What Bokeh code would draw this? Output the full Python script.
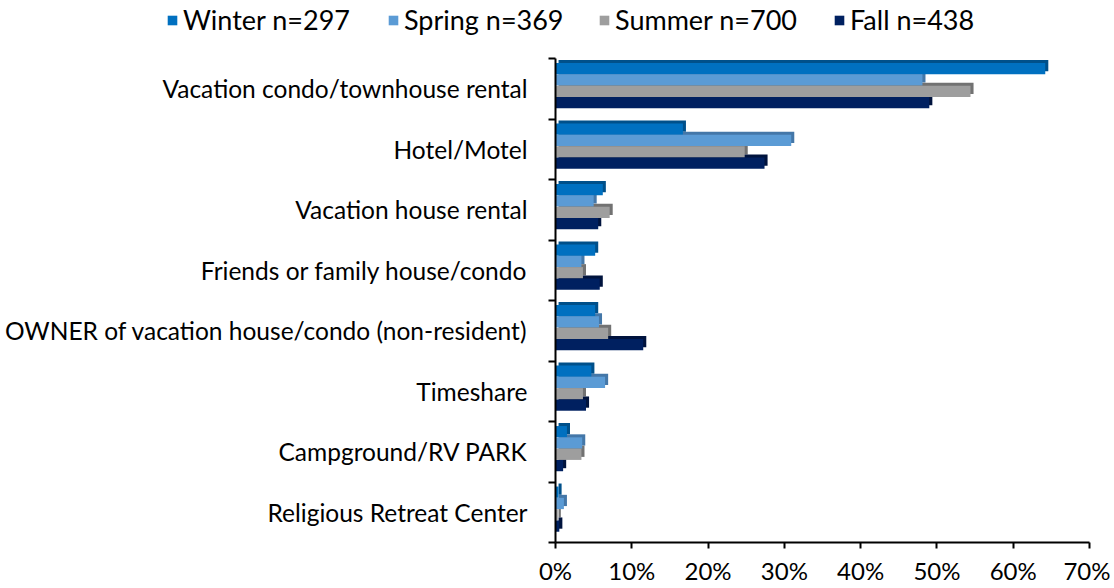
import numpy as np
from bokeh.plotting import figure
from bokeh.models import (ColumnDataSource, Range1d, FixedTicker, LinearAxis,
                          Legend, LegendItem)
from bokeh.embed import file_html
from bokeh.resources import INLINE

categories = [
    "Vacation condo/townhouse rental",
    "Hotel/Motel",
    "Vacation house rental",
    "Friends or family house/condo",
    "OWNER of vacation house/condo (non-resident)",
    "Timeshare",
    "Campground/RV PARK",
    "Religious Retreat Center",
]
series_names = ["Winter n=297", "Spring n=369", "Summer n=700", "Fall n=438"]
winter = [64.2, 16.7, 6.2, 5.2, 5.2, 4.7, 1.5, 0.4]
spring = [48.1, 30.9, 5.0, 3.4, 5.7, 6.5, 3.5, 1.1]
summer = [54.4, 24.8, 7.1, 3.6, 6.9, 3.6, 3.4, 0.3]
fall = [49.0, 27.4, 5.6, 5.8, 11.5, 4.0, 1.0, 0.5]
x_ticks = [0, 10, 20, 30, 40, 50, 60, 70]

colors = ["#0070C0", "#5B9BD5", "#9E9E9E", "#002060"]
side_colors = ["#00508A", "#4477A8", "#727272", "#00133D"]
values = [winter, spring, summer, fall]

FONT = "Lato"
W, H = 1110, 586
# pixel layout of the plotting area (0% .. 70% and the 8 category bands)
X0, X70, YTOP, YBOT = 555, 1089, 58, 542
n = len(categories)
sx = (X70 - X0) / 70.0
sy = (YBOT - YTOP) / float(n)

p = figure(width=W, height=H, output_backend="svg", toolbar_location=None,
           x_range=Range1d(-X0 / sx, 70 + (W - X70) / sx),
           y_range=Range1d(n + (H - YBOT) / sy, -YTOP / sy),
           x_axis_location=None, y_axis_location=None,
           min_border=0, min_border_left=0, min_border_right=0,
           min_border_top=0, min_border_bottom=0)
p.outline_line_color = None
p.grid.visible = False
p.background_fill_color = "white"
p.border_fill_color = "white"

centers = np.arange(n) + 0.5
bar_h = 0.186
offsets = [-0.332, -0.145, 0.042, 0.229]
depth_x = 0.4
depth_y = 0.05

renderers = []
for k in range(4):
    src = ColumnDataSource(dict(y=centers + offsets[k] - depth_y,
                                right=np.array(values[k]) + depth_x))
    p.hbar(y="y", left=0.4, right="right", height=bar_h, source=src,
           fill_color=side_colors[k], line_color=None)
for k in range(4):
    src = ColumnDataSource(dict(y=centers + offsets[k], right=values[k]))
    r = p.hbar(y="y", left=0, right="right", height=bar_h, source=src,
               fill_color=colors[k], line_color=None)
    renderers.append(r)

# x axis
xa = LinearAxis(fixed_location=n, bounds=(0, 70))
xa.ticker = FixedTicker(ticks=x_ticks)
xa.major_label_overrides = {t: f"{t}%" for t in x_ticks}
xa.minor_tick_line_color = None
xa.major_tick_in = 0
xa.major_tick_out = 6
xa.axis_line_width = 2
xa.major_tick_line_width = 2
xa.axis_line_color = "black"
xa.major_tick_line_color = "black"
xa.major_label_text_font = FONT
xa.major_label_text_font_size = "24px"
xa.major_label_text_color = "black"
xa.major_label_standoff = 7
p.add_layout(xa, "below")

# y axis: labels at category centres, ticks at category boundaries
ya = LinearAxis(fixed_location=0, bounds=(0, n))
ya.ticker = FixedTicker(ticks=[float(c) for c in centers],
                        minor_ticks=[float(b) for b in range(n + 1)])
ya.major_label_overrides = {float(c): t for c, t in zip(centers, categories)}
ya.major_tick_in = 0
ya.major_tick_out = 0
ya.minor_tick_in = 0
ya.minor_tick_out = 7
ya.minor_tick_line_width = 2
ya.minor_tick_line_color = "black"
ya.axis_line_width = 2
ya.axis_line_color = "black"
ya.major_label_text_font = FONT
ya.major_label_text_font_size = "24.5px"
ya.major_label_text_color = "black"
ya.major_label_standoff = 21
p.add_layout(ya, "left")

leg_x = [166, 387, 598, 833]
for k in range(4):
    lg = Legend(items=[LegendItem(label=series_names[k], renderers=[renderers[k]])],
                location=(leg_x[k], H - 36), orientation="horizontal",
                glyph_width=12, glyph_height=12, label_standoff=5,
                padding=0, margin=0, border_line_color=None,
                background_fill_alpha=0, label_text_font=FONT,
                label_text_font_size="27px", label_text_color="black")
    p.add_layout(lg, "center")

open("out.html", "w").write(file_html(p, INLINE))
